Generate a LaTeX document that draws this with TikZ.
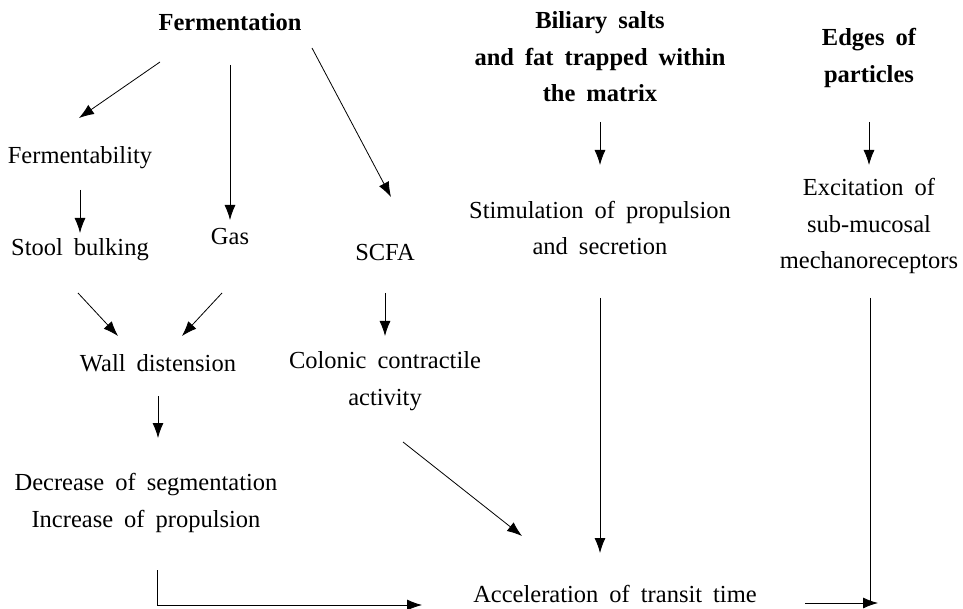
\documentclass[tikz,border=0pt]{standalone}
\usepackage{fontspec}
\setmainfont{Liberation Serif}
\usetikzlibrary{arrows.meta,calc}
\newcommand\widesp{\spaceskip 0.45em plus 0.1em\relax}
\newcommand\lblfont{\fontsize{24.5}{36.5}\selectfont\widesp}
\newcommand\hdrfont{\fontsize{24.5}{36.5}\selectfont\bfseries\widesp}
\begin{document}
\begin{tikzpicture}[x=1pt,y=-1pt,
  lbl/.style={inner sep=0pt,align=center,font=\lblfont},
  hdr/.style={inner sep=0pt,align=center,font=\hdrfont},
  arr/.style={-{Latex[length=15pt,width=11pt]},line width=0.8pt},
  ln/.style={line width=0.8pt}]
\useasboundingbox (0,0) rectangle (963,609);
\node[hdr] (ferm) at (230,22) {Fermentation};
\node[hdr] (bil) at (600,57) {Biliary salts\\and fat trapped within\\the matrix};
\node[hdr] (edges) at (869,58) {Edges of\\particles};
\node[lbl] (fermb) at (80,158) {Fermentability};
\node[lbl] (stool) at (80,250) {Stool bulking};
\node[lbl] (gas) at (230,237) {Gas};
\node[lbl] (scfa) at (385,253) {SCFA};
\node[lbl] (stim) at (600,228) {Stimulation of propulsion\\and secretion};
\node[lbl] (exc) at (869,226) {Excitation of\\sub-mucosal\\mechanoreceptors};
\node[lbl] (wall) at (158,363) {Wall distension};
\node[lbl] (col) at (385,381) {Colonic contractile\\activity};
\node[lbl] (dec) at (146,503) {Decrease of segmentation\\Increase of propulsion};
\node[lbl,anchor=base] (acc) at (615,602) {Acceleration of transit time};
\coordinate (junc) at (870,603);
\draw[arr] ($(ferm)+(-70,40)$) -- ($(fermb)+(-1,-40)$);
\draw[arr] ($(ferm)+(0,43)$) -- ($(gas)+(0,-17)$);
\draw[arr] ($(ferm)+(82,26)$) -- ($(scfa)+(6,-56)$);
\draw[arr] ($(fermb)+(0,32)$) -- ($(stool)+(0,-17)$);
\draw[arr] ($(stool)+(-2,43)$) -- ($(wall)+(-40,-27)$);
\draw[arr] ($(gas)+(-8,56)$) -- ($(wall)+(24,-27)$);
\draw[arr] ($(scfa)+(0,40)$) -- ($(col)+(0,-45)$);
\draw[arr] ($(wall)+(0,33)$) -- ($(dec)+(12,-65)$);
\draw[arr] ($(col)+(18,61)$) -- ($(acc.base)+(-93,-66)$);
\draw[arr] ($(bil)+(0,65)$) -- ($(stim)+(0,-63)$);
\draw[arr] ($(edges)+(0,64)$) -- ($(exc)+(0,-61)$);
\draw[arr] ($(stim)+(0,70)$) -- ($(acc.base)+(-15,-49)$);
\draw[arr] ($(dec)+(11,67)$) |- ($(acc.base)+(-193,3)$);
\draw[arr] ($(acc.base)+(190,1)$) -- ($(junc)+(8,0)$);
\draw[ln] ($(exc)+(1,72)$) -- (junc);
\end{tikzpicture}
\end{document}
